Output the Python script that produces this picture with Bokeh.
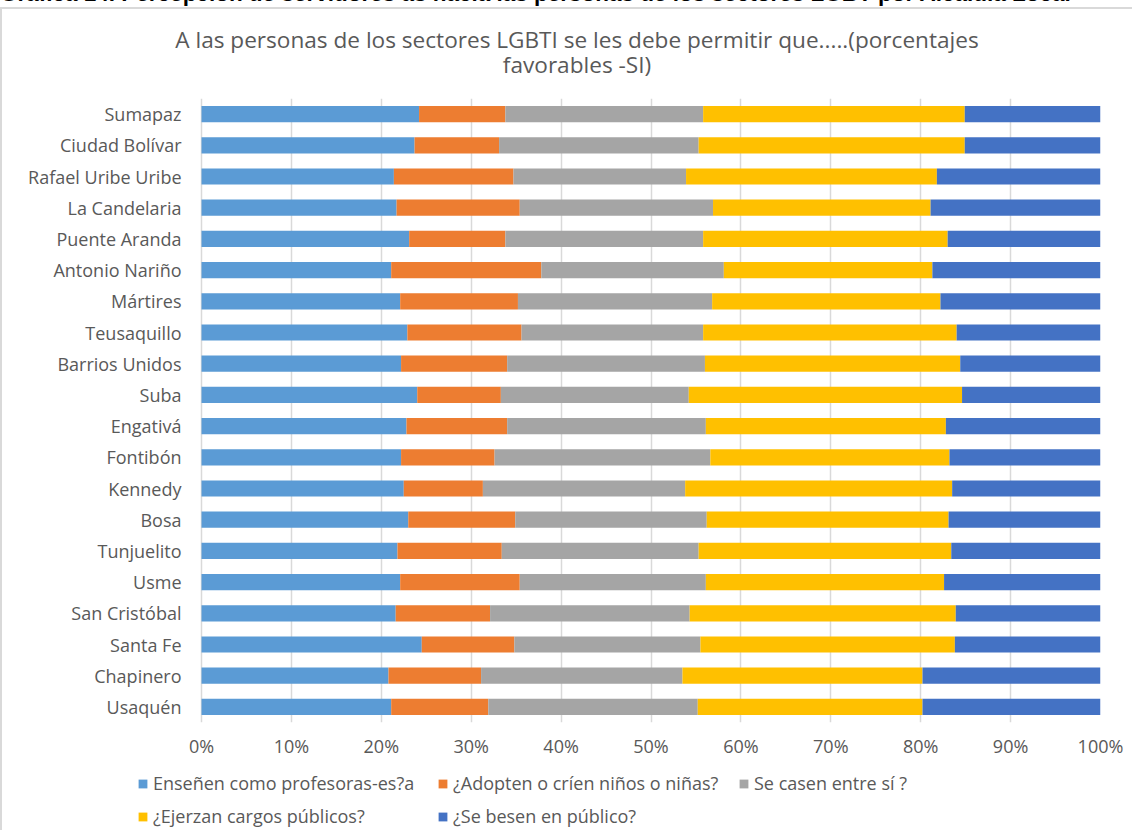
from bokeh.plotting import figure
from bokeh.layouts import column
from bokeh.models import (ColumnDataSource, FactorRange, Range1d, FixedTicker, PrintfTickFormatter,
                          Legend, LegendItem, Label, Div)
from bokeh.core.properties import value
from bokeh.embed import file_html
from bokeh.resources import INLINE

# Districts, bottom to top (as in the original Excel category order)
districts = ["Usaquén", "Chapinero", "Santa Fe", "San Cristóbal", "Usme", "Tunjuelito", "Bosa",
             "Kennedy", "Fontibón", "Engativá", "Suba", "Barrios Unidos", "Teusaquillo", "Mártires",
             "Antonio Nariño", "Puente Aranda", "La Candelaria", "Rafael Uribe Uribe",
             "Ciudad Bolívar", "Sumapaz"]

# Percent share of each response (segments of each 100% bar)
ensenen = [21.1, 20.8, 24.5, 21.6, 22.1, 21.8, 23.0, 22.5, 22.2, 22.8, 24.0, 22.2, 22.9, 22.1,
           21.1, 23.1, 21.7, 21.4, 23.7, 24.2]
adopten = [10.8, 10.3, 10.3, 10.5, 13.3, 11.6, 11.9, 8.8, 10.4, 11.2, 9.3, 11.8, 12.7, 13.1,
           16.7, 10.7, 13.7, 13.3, 9.4, 9.6]
casen = [23.3, 22.4, 20.7, 22.2, 20.7, 21.9, 21.3, 22.5, 24.0, 22.1, 20.9, 22.0, 20.2, 21.6,
         20.3, 22.0, 21.5, 19.2, 22.2, 22.0]
ejerzan = [25.0, 26.7, 28.3, 29.6, 26.5, 28.1, 26.9, 29.7, 26.6, 26.7, 30.4, 28.4, 28.2, 25.4,
           23.2, 27.2, 24.2, 27.9, 29.6, 29.1]
besen = [19.8, 19.8, 16.2, 16.1, 17.4, 16.6, 16.9, 16.5, 16.8, 17.2, 15.4, 15.6, 16.0, 17.8,
         18.7, 17.0, 18.9, 18.2, 15.1, 15.1]

series_keys = ["ensenen", "adopten", "casen", "ejerzan", "besen"]
series_labels = ["Enseñen como profesoras-es?a", "¿Adopten o críen niños o niñas?",
                 "Se casen entre sí ?", "¿Ejerzan cargos públicos?", "¿Se besen en público?"]
colors = ["#5B9BD5", "#ED7D31", "#A5A5A5", "#FFC000", "#4472C4"]
x_ticks = [0, 10, 20, 30, 40, 50, 60, 70, 80, 90, 100]

title_line1 = "A las personas de los sectores LGBTI se les debe permitir que.....(porcentajes"
title_line2 = "favorables -SI)"
caption = ("Gráfica 14. Percepción de servidores as hacia las personas de los sectores LGBT "
           "por Alcaldía Local")

FONT = "Open Sans"
TXT = "#595959"
W = 1130                      # width of the bordered chart box
LABEL_AREA = 199              # px left of the 0% line (room for district names)
RIGHT_PAD = 32
PLOT_W = W - LABEL_AREA - RIGHT_PAD   # px between 0% and 100%
x_start = -100.0 * LABEL_AREA / PLOT_W


def bare_figure(width, height):
    f = figure(width=width, height=height, output_backend="svg", toolbar_location=None,
               x_range=Range1d(0, 1), y_range=Range1d(0, 1), x_axis_type=None, y_axis_type=None,
               min_border=0, min_border_right=RIGHT_PAD)
    f.outline_line_color = None
    f.grid.grid_line_color = None
    return f


# --- document caption, cut by the top edge in the original ---
cap = Div(text=('<div style="transform:translateY(-17px);white-space:nowrap;'
                "font-family:'Liberation Sans';font-weight:bold;font-size:22.5px;"
                'line-height:22.5px;color:#000;">' + caption + '</div>'),
          width=1136, height=7, margin=0, styles={"overflow": "hidden"})

# --- chart title (two centred lines) ---
head = bare_figure(W, 76)
head.add_layout(Label(x=574.5, y=46, x_units="screen", y_units="screen", text=title_line1,
                      text_font=FONT, text_font_size="22.6px", text_color=TXT,
                      text_align="center", text_baseline="middle"))
head.add_layout(Label(x=574.5, y=21, x_units="screen", y_units="screen", text=title_line2,
                      text_font=FONT, text_font_size="22.6px", text_color=TXT,
                      text_align="center", text_baseline="middle"))

# --- main stacked bar chart ---
source = ColumnDataSource(dict(district=districts, ensenen=ensenen, adopten=adopten,
                               casen=casen, ejerzan=ejerzan, besen=besen))

p = figure(width=W, height=677, output_backend="svg", toolbar_location=None,
           y_range=FactorRange(factors=districts), x_range=Range1d(x_start, 100),
           y_axis_location=None,
           min_border_left=0, min_border_right=RIGHT_PAD, min_border_top=13, min_border_bottom=40)
p.outline_line_color = None

renderers = p.hbar_stack(series_keys, y="district", height=0.52, color=colors,
                         source=source, line_color=None)

# district names, right-aligned 20px left of the 0% line
p.text(x=0, y="district", text="district", source=source, x_offset=-20,
       text_align="right", text_baseline="middle", text_font=value(FONT),
       text_font_size=value("18px"), text_color=TXT)

p.xaxis.ticker = FixedTicker(ticks=x_ticks)
p.xaxis.formatter = PrintfTickFormatter(format="%d%%")
p.xaxis.axis_line_color = None
p.xaxis.major_tick_line_color = None
p.xaxis.major_tick_out = 0
p.xaxis.minor_tick_line_color = None
p.xaxis.major_label_standoff = 11
p.xaxis.major_label_text_font = FONT
p.xaxis.major_label_text_font_size = "18px"
p.xaxis.major_label_text_color = TXT

p.xgrid.ticker = FixedTicker(ticks=x_ticks)
p.xgrid.grid_line_color = "#D9D9D9"
p.xgrid.grid_line_width = 1.5
p.ygrid.grid_line_color = None

# --- legend strip (3 + 2 entries, as in the original) ---
leg = bare_figure(W, 68)
positions = [(135, 35), (435, 35), (736, 35), (135, 2), (435, 2)]
for lab, c, loc in zip(series_labels, colors, positions):
    # key glyph only: a zero-length bar placed outside the visible range
    r = leg.hbar(y=[-5], left=[0], right=[0], height=0.5, fill_color=c, line_color=None)
    lg = Legend(items=[LegendItem(label=lab, renderers=[r])], location=loc,
                orientation="horizontal", glyph_width=11, glyph_height=11,
                label_height=11, label_standoff=5, padding=0, margin=0, spacing=0,
                border_line_color=None, background_fill_alpha=0,
                label_text_font=FONT, label_text_font_size="18px", label_text_color=TXT)
    leg.add_layout(lg)

box = column(head, p, leg, spacing=0)
box.styles = {"border-left": "2px solid #D9D9D9", "border-top": "2px solid #D9D9D9"}
page = column(cap, box, spacing=0)

open("out.html", "w").write(file_html(page, INLINE))
